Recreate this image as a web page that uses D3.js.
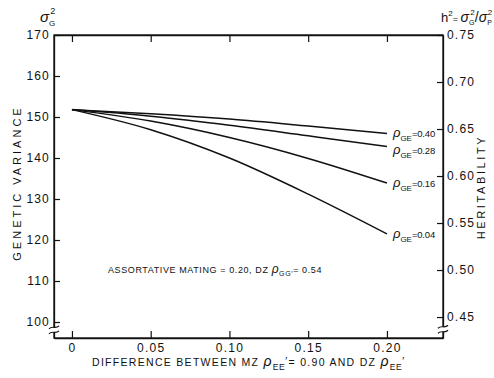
<!DOCTYPE html>
<html lang="en">
<head>
    <meta charset="UTF-8">
    <title>Genetic variance vs difference in rho EE'</title>
    <script src="https://d3js.org/d3.v7.min.js"></script>
    <style>
        body { margin: 0; background: #fff; }
        text { font-family: "Liberation Sans", "DejaVu Sans", sans-serif; fill: #111; }
    </style>
</head>
<body>
    <div id="chart"></div>
    <script>
        // data
        const xTicks = [0, 0.05, 0.10, 0.15, 0.20];
        const xTickLabels = ["0", "0.05", "0.10", "0.15", "0.20"];
        const leftTicks = [100, 110, 120, 130, 140, 150, 160, 170];
        const rightTicks = [0.45, 0.50, 0.55, 0.60, 0.65, 0.70, 0.75];
        const rightTickLabels = ["0.45", "0.50", "0.55", "0.60", "0.65", "0.70", "0.75"];

        const diff = [0, 0.05, 0.10, 0.15, 0.20];
        const rhoGE = ["0.40", "0.28", "0.16", "0.04"];
        const var040 = [151.8, 150.8, 149.5, 147.8, 146.0];
        const var028 = [151.8, 150.2, 148.0, 145.4, 142.8];
        const var016 = [151.8, 149.0, 145.0, 139.9, 133.9];
        const var004 = [151.8, 146.9, 140.0, 131.2, 121.5];
        const series = [var040, var028, var016, var004];

        const W = 494, H = 378;
        const svg = d3.select("#chart").append("svg")
            .attr("width", W).attr("height", H);

        const x = d3.scaleLinear().domain([-0.0114, 0.2356]).range([54, 443]);
        const yL = d3.scaleLinear().domain([96.1, 170]).range([338, 35]);
        const yR = d3.scaleLinear().domain([0.4277, 0.75]).range([338, 35]);

        const x0 = x.range()[0], x1 = x.range()[1];
        const yTop = yL.range()[1], yBot = yL.range()[0];

        // frame
        svg.append("rect")
            .attr("x", x0).attr("y", yTop)
            .attr("width", x1 - x0).attr("height", yBot - yTop)
            .attr("fill", "none").attr("stroke", "#111").attr("stroke-width", 1.3);

        // left axis
        svg.append("g")
            .attr("transform", "translate(" + x0 + ",0)")
            .call(d3.axisLeft(yL).tickValues(leftTicks).tickSize(-6).tickSizeOuter(0).tickPadding(4));
        // right axis
        svg.append("g")
            .attr("transform", "translate(" + x1 + ",0)")
            .call(d3.axisRight(yR).tickValues(rightTicks).tickSize(-6).tickSizeOuter(0).tickPadding(4)
                .tickFormat((d, i) => rightTickLabels[i]));
        // bottom axis
        svg.append("g")
            .attr("transform", "translate(0," + yBot + ")")
            .call(d3.axisBottom(x).tickValues(xTicks).tickSize(-7).tickSizeOuter(0).tickPadding(5)
                .tickFormat((d, i) => xTickLabels[i]));
        // top ticks
        svg.append("g")
            .attr("transform", "translate(0," + yTop + ")")
            .call(d3.axisTop(x).tickValues(xTicks).tickSize(-7).tickSizeOuter(0).tickFormat(""));

        svg.selectAll(".domain").attr("stroke", "#111").attr("stroke-width", 1.3);
        svg.selectAll(".tick line").attr("stroke", "#111").attr("stroke-width", 1.2);
        svg.selectAll(".tick text")
            .style("font-family", '"Liberation Sans", sans-serif')
            .style("font-size", "12px")
            .style("letter-spacing", "1.2px")
            .attr("fill", "#111");

        // axis breaks
        function axisBreak(cx, cy) {
            const g = svg.append("g");
            g.append("rect").attr("x", cx - 3).attr("y", cy - 2.5).attr("width", 6).attr("height", 5).attr("fill", "#fff");
            [-2.5, 2.5].forEach(dy => {
                g.append("path")
                    .attr("d", `M${cx - 5},${cy + dy + 1.5} C${cx - 2},${cy + dy - 2} ${cx + 2},${cy + dy + 2} ${cx + 5},${cy + dy - 1.5}`)
                    .attr("fill", "none").attr("stroke", "#111").attr("stroke-width", 1.2);
            });
        }
        axisBreak(x0, yL(98.1));
        axisBreak(x1, yR(0.437));

        // curves
        const line = d3.line()
            .x((d, i) => x(diff[i]))
            .y(d => yL(d))
            .curve(d3.curveMonotoneX);

        svg.selectAll(".curve")
            .data(series)
            .join("path")
            .attr("class", "curve")
            .attr("d", line)
            .attr("fill", "none")
            .attr("stroke", "#111")
            .attr("stroke-width", 1.5);

        // curve labels
        const lbl = svg.selectAll(".clabel")
            .data(series)
            .join("text")
            .attr("class", "clabel")
            .attr("x", x(0.20) + 6)
            .attr("y", (d, i) => yL(d[d.length - 1]) + 4 + (i === 1 ? 3 : 0))
            .style("font-size", "9.5px");
        lbl.append("tspan").text("ρ").style("font-style", "italic").style("font-size", "13px");
        lbl.append("tspan").text("GE").attr("dy", 4).style("font-size", "8px");
        lbl.append("tspan").text((d, i) => "=" + rhoGE[i]).attr("dy", -4).style("letter-spacing", "-0.2px");

        // annotation
        const ann = svg.append("text")
            .attr("x", 108).attr("y", 273)
            .style("font-size", "9px").style("letter-spacing", "0.6px");
        ann.append("tspan").text("ASSORTATIVE MATING = 0.20, DZ ");
        ann.append("tspan").text("ρ").style("font-style", "italic").style("font-size", "12px");
        ann.append("tspan").text("GG′").attr("dy", 3).style("font-size", "7px");
        ann.append("tspan").text("= 0.54").attr("dy", -3);

        // x title
        const xt = svg.append("text")
            .attr("x", 92).attr("y", 366)
            .style("font-size", "10.5px").style("letter-spacing", "1.3px");
        xt.append("tspan").text("DIFFERENCE BETWEEN MZ ");
        xt.append("tspan").text("ρ").style("font-style", "italic").style("font-size", "14px");
        xt.append("tspan").text("EE").attr("dy", 4).style("font-size", "8.5px").style("letter-spacing", "0.5px");
        xt.append("tspan").text("′").attr("dy", -5);
        xt.append("tspan").text("= 0.90 AND DZ ").attr("dy", 1);
        xt.append("tspan").text("ρ").style("font-style", "italic").style("font-size", "14px");
        xt.append("tspan").text("EE").attr("dy", 4).style("font-size", "8.5px").style("letter-spacing", "0.5px");
        xt.append("tspan").text("′").attr("dy", -5);

        // left title
        svg.append("text")
            .attr("transform", "translate(21,183) rotate(-90)")
            .attr("text-anchor", "middle")
            .style("font-size", "11px").style("letter-spacing", "3px")
            .text("GENETIC VARIANCE");

        // right title
        svg.append("text")
            .attr("transform", "translate(485,187) rotate(-90)")
            .attr("text-anchor", "middle")
            .style("font-size", "11px").style("letter-spacing", "2.6px")
            .text("HERITABILITY");

        // left unit
        const lu = svg.append("text").attr("x", 40).attr("y", 22);
        lu.append("tspan").text("σ").style("font-style", "italic").style("font-size", "15px");
        lu.append("tspan").text("G").attr("dy", 4).style("font-size", "8px");
        lu.append("tspan").text("2").attr("dx", -5).attr("dy", -12).style("font-size", "9px");

        // right unit
        const ru = svg.append("text").attr("x", 441).attr("y", 22).style("font-size", "11px");
        ru.append("tspan").text("h").style("font-size", "13px");
        ru.append("tspan").text("2").attr("dy", -6).style("font-size", "8px");
        ru.append("tspan").text("= ").attr("dy", 6).style("font-size", "9px");
        ru.append("tspan").text("σ").style("font-style", "italic").style("font-size", "14px");
        ru.append("tspan").text("G").attr("dy", 3).style("font-size", "7px");
        ru.append("tspan").text("2").attr("dx", -4).attr("dy", -10).style("font-size", "8px");
        ru.append("tspan").text("/").attr("dy", 7).style("font-size", "14px");
        ru.append("tspan").text("σ").style("font-style", "italic").style("font-size", "14px");
        ru.append("tspan").text("P").attr("dy", 3).style("font-size", "7px");
        ru.append("tspan").text("2").attr("dx", -4).attr("dy", -10).style("font-size", "8px");
    </script>
</body>
</html>
